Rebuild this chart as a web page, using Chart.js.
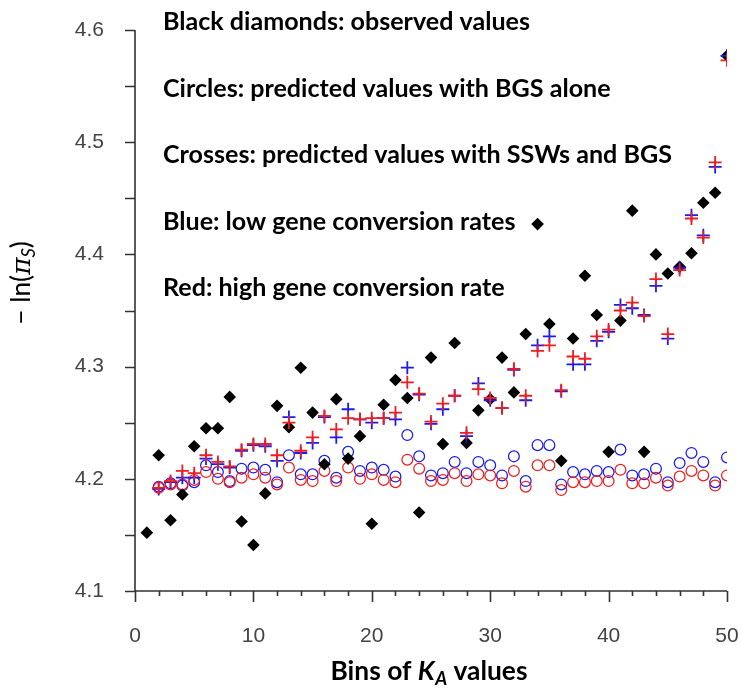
<!DOCTYPE html>
<html>
<head>
<meta charset="utf-8">
<script src="https://cdn.jsdelivr.net/npm/chart.js@4.4.1/dist/chart.umd.min.js"></script>
<style>
  html, body { margin: 0; padding: 0; background: #fff; }
  #wrap { width: 741px; height: 699px; position: relative; }
</style>
</head>
<body>
<div id="wrap"><canvas id="c" width="741" height="699"></canvas></div>
<script>
// Bins of K_A values (1..50)
const bins = Array.from({ length: 50 }, (_, i) => i + 1);

// Observed -ln(pi_S) per bin
const observed = [
  4.152, 4.221, 4.163, 4.186, 4.229, 4.245, 4.245, 4.273, 4.162, 4.141,
  4.187, 4.265, 4.246, 4.299, 4.259, 4.213, 4.271, 4.218, 4.238, 4.160,
  4.266, 4.288, 4.272, 4.170, 4.308, 4.231, 4.321, 4.232, 4.261, 4.271,
  4.308, 4.277, 4.329, 4.427, 4.338, 4.216, 4.325, 4.381, 4.346, 4.224,
  4.341, 4.439, 4.224, 4.400, 4.383, 4.389, 4.401, 4.446, 4.455, 4.577
];

// Predicted with BGS alone, low gene conversion
const bgsLow = [
  null, 4.193, 4.196, 4.194, 4.197, 4.212, 4.206, 4.198, 4.209, 4.210,
  4.208, 4.197, 4.221, 4.204, 4.204, 4.216, 4.201, 4.224, 4.207, 4.210,
  4.208, 4.202, 4.239, 4.220, 4.203, 4.205, 4.215, 4.205, 4.215, 4.212,
  4.203, 4.220, 4.198, 4.230, 4.230, 4.195, 4.206, 4.204, 4.207, 4.206,
  4.226, 4.203, 4.204, 4.209, 4.197, 4.214, 4.223, 4.215, 4.197, 4.219
];

// Predicted with BGS alone, high gene conversion
const bgsHigh = [
  null, 4.192, 4.195, 4.195, 4.199, 4.206, 4.200, 4.197, 4.201, 4.204,
  4.201, 4.195, 4.210, 4.199, 4.198, 4.207, 4.198, 4.210, 4.200, 4.204,
  4.199, 4.197, 4.217, 4.209, 4.198, 4.199, 4.205, 4.198, 4.204, 4.203,
  4.196, 4.207, 4.193, 4.212, 4.212, 4.190, 4.197, 4.197, 4.198, 4.198,
  4.208, 4.196, 4.196, 4.201, 4.194, 4.202, 4.207, 4.203, 4.194, 4.203
];

// Predicted with SSWs and BGS, low gene conversion
const sswLow = [
  null, 4.191, 4.197, 4.201, 4.201, 4.218, 4.213, 4.210, 4.225, 4.230,
  4.229, 4.216, 4.255, 4.223, 4.232, 4.255, 4.237, 4.262, 4.253, 4.250,
  4.254, 4.253, 4.299, 4.275, 4.249, 4.262, 4.274, 4.238, 4.285, 4.270,
  4.263, 4.297, 4.270, 4.319, 4.327, 4.278, 4.302, 4.302, 4.323, 4.331,
  4.355, 4.352, 4.346, 4.372, 4.325, 4.388, 4.435, 4.417, 4.478, 4.577
];

// Predicted with SSWs and BGS, high gene conversion
const sswHigh = [
  null, 4.192, 4.198, 4.207, 4.205, 4.221, 4.215, 4.211, 4.226, 4.231,
  4.231, 4.221, 4.250, 4.225, 4.237, 4.256, 4.244, 4.254, 4.253, 4.254,
  4.254, 4.259, 4.286, 4.276, 4.251, 4.267, 4.274, 4.241, 4.280, 4.272,
  4.263, 4.298, 4.274, 4.314, 4.319, 4.279, 4.309, 4.307, 4.327, 4.333,
  4.350, 4.357, 4.345, 4.378, 4.329, 4.386, 4.432, 4.415, 4.482, 4.573
];

// Axis ticks
const xTickLabels = ['0', '10', '20', '30', '40', '50'];
const xMinorTicks = [2, 4, 6, 8, 12, 14, 16, 18, 22, 24, 26, 28, 32, 34, 36, 38, 42, 44, 46, 48];
const yTickLabels = ['4.1', '4.2', '4.3', '4.4', '4.5', '4.6'];
const yMinorTicks = [4.15, 4.25, 4.35, 4.45, 4.55];

// Text notes in the plot
const notes = [
  'Black diamonds: observed values',
  'Circles: predicted values with BGS alone',
  'Crosses: predicted values with SSWs and BGS',
  'Blue: low gene conversion rates',
  'Red: high gene conversion rate'
];

const BLUE = '#1a1af2';
const RED = '#ef1d1d';
const AXIS = '#333333';

const toPoints = (vals) => bins.map((b, i) => ({ x: b, y: vals[i] })).filter(p => p.y !== null);

// Text made of runs with different fonts / vertical offsets
function runsWidth(ctx, runs) {
  let w = 0;
  for (const r of runs) { ctx.font = r.font; w += ctx.measureText(r.text).width + (r.gap || 0); }
  return w;
}
function drawRuns(ctx, runs, x, y) {
  let cx = x;
  for (const r of runs) {
    ctx.font = r.font;
    ctx.fillText(r.text, cx, y + (r.dy || 0));
    cx += ctx.measureText(r.text).width + (r.gap || 0);
  }
}

const decorations = {
  id: 'decorations',
  beforeDatasetsDraw(chart) {
    const ctx = chart.ctx;
    const xs = chart.scales.x, ys = chart.scales.y;
    const area = chart.chartArea;
    ctx.save();

    // axis lines
    ctx.strokeStyle = AXIS;
    ctx.lineWidth = 1.6;
    ctx.beginPath();
    ctx.moveTo(area.left, area.top);
    ctx.lineTo(area.left, area.bottom);
    ctx.moveTo(area.left, area.bottom);
    ctx.lineTo(area.right, area.bottom);
    ctx.stroke();

    // y ticks
    ctx.beginPath();
    for (const t of yTickLabels.map(Number).concat(yMinorTicks)) {
      const py = Math.round(ys.getPixelForValue(t)) + 0.5;
      ctx.moveTo(area.left - 10, py);
      ctx.lineTo(area.left, py);
    }
    // x ticks
    for (const t of xTickLabels.map(Number)) {
      const px = Math.round(xs.getPixelForValue(t)) + 0.5;
      ctx.moveTo(px, area.bottom);
      ctx.lineTo(px, area.bottom + 11);
    }
    for (const t of xMinorTicks) {
      const px = Math.round(xs.getPixelForValue(t)) + 0.5;
      ctx.moveTo(px, area.bottom);
      ctx.lineTo(px, area.bottom + 5);
    }
    ctx.stroke();

    // tick labels
    ctx.fillStyle = '#444444';
    ctx.font = '21px "Liberation Sans", Arial, sans-serif';
    ctx.textBaseline = 'middle';
    ctx.textAlign = 'right';
    for (const lab of yTickLabels) {
      ctx.fillText(lab, area.left - 31, ys.getPixelForValue(Number(lab)));
    }
    ctx.textAlign = 'center';
    for (const lab of xTickLabels) {
      ctx.fillText(lab, xs.getPixelForValue(Number(lab)), area.bottom + 45);
    }

    // notes
    ctx.fillStyle = '#000';
    ctx.textAlign = 'left';
    ctx.textBaseline = 'alphabetic';
    const noteFamily = 'Lato, "Open Sans", sans-serif';
    ctx.font = 'bold 22px ' + noteFamily;
    const ref = ctx.measureText(notes[2]).width;
    const size = 22 * 509 / ref;
    ctx.font = 'bold ' + size.toFixed(2) + 'px ' + noteFamily;
    notes.forEach((t, i) => ctx.fillText(t, 163, 30 + i * 66.6));

    // x axis title
    const fs = size * 1.05;
    const xRuns = [
      { text: 'Bins of ', font: 'bold ' + fs + 'px ' + noteFamily },
      { text: 'K', font: 'italic bold ' + fs + 'px ' + noteFamily, gap: 0.5 },
      { text: 'A', font: 'italic bold ' + (fs * 0.7) + 'px ' + noteFamily, dy: 5 },
      { text: ' values', font: 'bold ' + fs + 'px ' + noteFamily }
    ];
    const xw = runsWidth(ctx, xRuns);
    drawRuns(ctx, xRuns, 429 - xw / 2, 680);

    // y axis title (rotated)
    const yRuns = [
      { text: '\u2212 ln(', font: fs + 'px ' + noteFamily },
      { text: '\u03C0', font: 'italic ' + fs + 'px "DejaVu Serif", serif', gap: 0 },
      { text: 'S', font: 'italic ' + (fs * 0.7) + 'px ' + noteFamily, dy: 5 },
      { text: ')', font: fs + 'px ' + noteFamily }
    ];
    ctx.translate(30, 283);
    ctx.rotate(-Math.PI / 2);
    const yw = runsWidth(ctx, yRuns);
    drawRuns(ctx, yRuns, -yw / 2, 0);

    ctx.restore();
  }
};

const circleStyle = (color) => ({
  pointStyle: 'circle', pointRadius: 5.4, pointBorderWidth: 1.25,
  pointBackgroundColor: 'rgba(0,0,0,0)', pointBorderColor: color,
  backgroundColor: 'rgba(0,0,0,0)', borderColor: color
});
const crossStyle = (color) => ({
  pointStyle: 'cross', pointRadius: 6.5, pointBorderWidth: 1.8,
  pointBackgroundColor: color, pointBorderColor: color,
  backgroundColor: color, borderColor: color
});

new Chart(document.getElementById('c'), {
  type: 'scatter',
  data: {
    datasets: [
      { label: 'SSWs and BGS, high gene conversion', data: toPoints(sswHigh), order: 0, ...crossStyle(RED) },
      { label: 'SSWs and BGS, low gene conversion', data: toPoints(sswLow), order: 1, ...crossStyle(BLUE) },
      { label: 'Observed', data: toPoints(observed), order: 2,
        pointStyle: 'rectRot', pointRadius: 6.3, pointBorderWidth: 0,
        pointBackgroundColor: '#000', pointBorderColor: '#000',
        backgroundColor: '#000', borderColor: '#000' },
      { label: 'BGS alone, high gene conversion', data: toPoints(bgsHigh), order: 3, ...circleStyle(RED) },
      { label: 'BGS alone, low gene conversion', data: toPoints(bgsLow), order: 4, ...circleStyle(BLUE) }
    ]
  },
  options: {
    responsive: false,
    animation: false,
    devicePixelRatio: 1,
    layout: { padding: { left: 135, right: 14, top: 30, bottom: 108 } },
    plugins: { legend: { display: false }, tooltip: { enabled: false } },
    elements: { point: { hoverRadius: 6 } },
    scales: {
      x: { type: 'linear', min: 0, max: 50, display: false },
      y: { type: 'linear', min: 4.1, max: 4.6, display: false }
    }
  },
  plugins: [decorations]
});
</script>
</body>
</html>
